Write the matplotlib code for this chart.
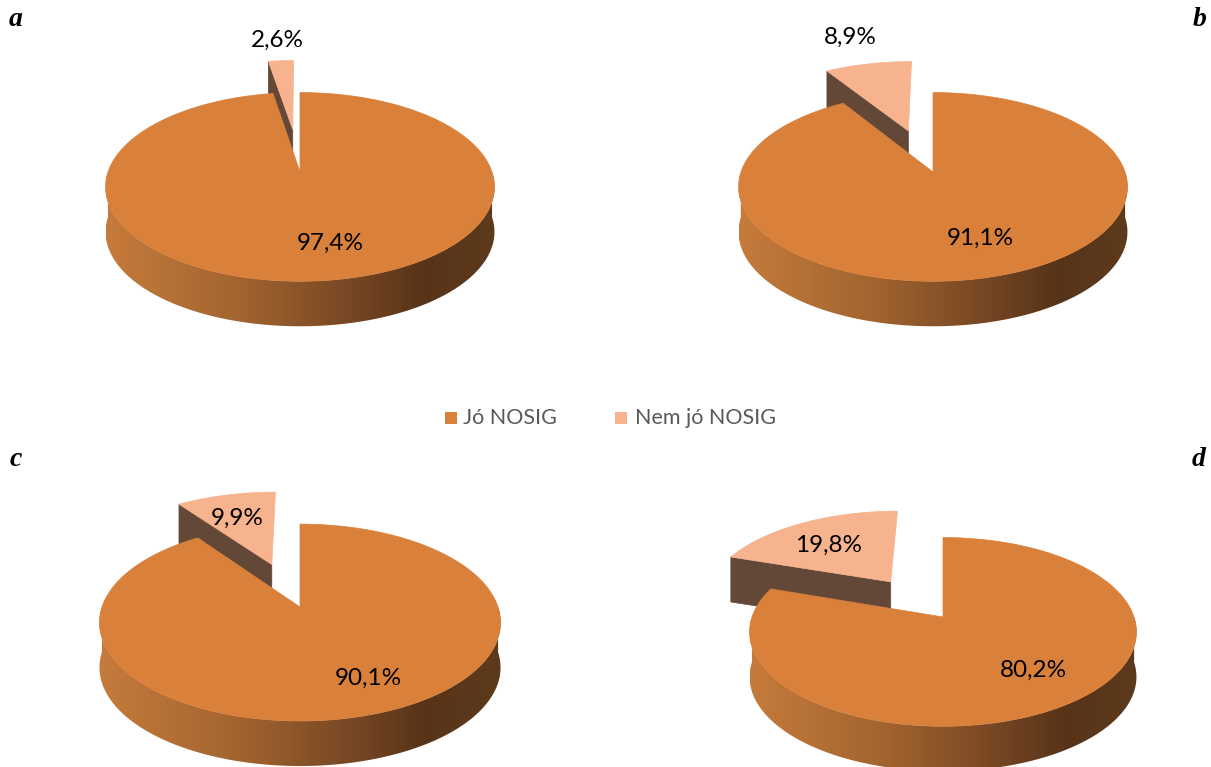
import numpy as np
import matplotlib.pyplot as plt
from matplotlib.patches import Polygon, Rectangle
from matplotlib.colors import LinearSegmentedColormap

# share of answers per survey group (percent)
categories = ["Jó NOSIG", "Nem jó NOSIG"]
panel_letters = ["a", "b", "c", "d"]
jo_pct = [97.4, 91.1, 90.1, 80.2]
nem_jo_pct = [2.6, 8.9, 9.9, 19.8]

# colours
top_colors = ["#D9803B", "#F6B38E"]
cut_color = "#634838"
wall_cmap = LinearSegmentedColormap.from_list(
    "wall", [(0.0, "#C57B3B"), (0.35, "#A2642F"), (0.62, "#784824"),
             (0.82, "#573318"), (1.0, "#5E3A1D")])

# pie geometry in pixels: centre, radii, perspective factor, wall height
layout = [
    dict(cx=300, cy=172, A=192, B=92, k=0.158, h=45,
         lab_main=(330, 243), lab_small=(277, 40)),
    dict(cx=933, cy=172, A=192, B=92, k=0.158, h=45,
         lab_main=(980, 238), lab_small=(850, 37)),
    dict(cx=300, cy=607, A=198, B=96, k=0.158, h=45,
         lab_main=(368, 678), lab_small=(237, 518)),
    dict(cx=943, cy=617, A=191, B=92, k=0.158, h=45,
         lab_main=(1033, 670), lab_small=(829, 545)),
]
explode = 0.5

W, H = 1211, 767
fig = plt.figure(figsize=(W / 100, H / 100), dpi=100)
ax = fig.add_axes([0, 0, 1, 1])


def proj(g, u, w):
    d = 1 + g["k"] * w
    return g["cx"] + g["A"] * u / d, g["cy"] - g["B"] * w / d


def arc(g, t1, t2, off, n=200):
    t = np.radians(np.linspace(t1, t2, n))
    return proj(g, np.cos(t) + off[0], np.sin(t) + off[1])


def draw_slice(g, t1, t2, off, color):
    ox, ow = off
    h = g["h"]
    # curved outer wall, only the part that faces the viewer
    t = np.linspace(t1, t2, 721)
    front = np.sin(np.radians(t)) < -1e-9
    xl = g["cx"] - g["A"] / np.sqrt(1 - g["k"] ** 2)
    xr = g["cx"] + g["A"] / np.sqrt(1 - g["k"] ** 2)
    idx = np.flatnonzero(front)
    if idx.size:
        runs = np.split(idx, np.flatnonzero(np.diff(idx) > 1) + 1)
        for r in runs:
            x, y = arc(g, t[r[0]], t[r[-1]], off)
            pts = np.column_stack([np.r_[x, x[::-1]], np.r_[y, y[::-1] + h]])
            poly = Polygon(pts, closed=True, fc="none", ec="none")
            ax.add_patch(poly)
            im = ax.imshow(np.linspace(0, 1, 256)[None, :], cmap=wall_cmap,
                           extent=(xl, xr, y.max() + h + 5, y.min() - 5),
                           aspect="auto", interpolation="bilinear", zorder=1)
            im.set_clip_path(poly)
    # radial cut faces
    cx0, cy0 = proj(g, ox, ow)
    for ang, sign in ((t1, 1), (t2, -1)):
        a = np.radians(ang)
        if sign * np.cos(a) > 1e-9:
            rx, ry = proj(g, np.cos(a) + ox, np.sin(a) + ow)
            face = [(cx0, cy0), (rx, ry), (rx, ry + h), (cx0, cy0 + h)]
            ax.add_patch(Polygon(face, closed=True, fc=cut_color,
                                 ec=cut_color, lw=0.5, zorder=2))
    # top face
    x, y = arc(g, t1, t2, off)
    pts = np.column_stack([np.r_[cx0, x], np.r_[cy0, y]])
    ax.add_patch(Polygon(pts, closed=True, fc=color, ec=color, lw=0.5,
                         zorder=3))


def pct(v):
    return f"{v:.1f}%".replace(".", ",")


for i, g in enumerate(layout):
    sweep_jo = 360 * jo_pct[i] / 100
    sweep_nem = 360 * nem_jo_pct[i] / 100
    # small slice sits just left of 12 o'clock and is pulled out
    mid = np.radians(90 + sweep_nem / 2)
    off = (explode * np.cos(mid), explode * np.sin(mid))
    draw_slice(g, 90, 90 + sweep_nem, off, top_colors[1])
    draw_slice(g, 90 - sweep_jo, 90, (0, 0), top_colors[0])

    ax.text(*g["lab_main"], pct(jo_pct[i]), ha="center", va="center",
            fontsize=17.5, family="Lato", color="black", zorder=5)
    ax.text(*g["lab_small"], pct(nem_jo_pct[i]), ha="center", va="center",
            fontsize=17.5, family="Lato", color="black", zorder=5)

# panel letters
for letter, (x, y) in zip(panel_letters, [(16, 20), (1200, 20), (16, 459), (1199, 459)]):
    ax.text(x, y, letter, ha="center", va="center", fontsize=20,
            family="Liberation Serif", weight="bold", style="italic")

# legend in the middle
for (sx, tx), cat, col in zip([(445, 463), (615, 635)], categories, top_colors):
    ax.add_patch(Rectangle((sx, 412), 12, 12, fc=col, ec="none"))
    ax.text(tx, 418, cat, ha="left", va="center", fontsize=15.5,
            family="Lato", color="#595959")

ax.set_xlim(0, W)
ax.set_ylim(H, 0)
ax.axis("off")
fig.savefig("out.png", dpi=100)
